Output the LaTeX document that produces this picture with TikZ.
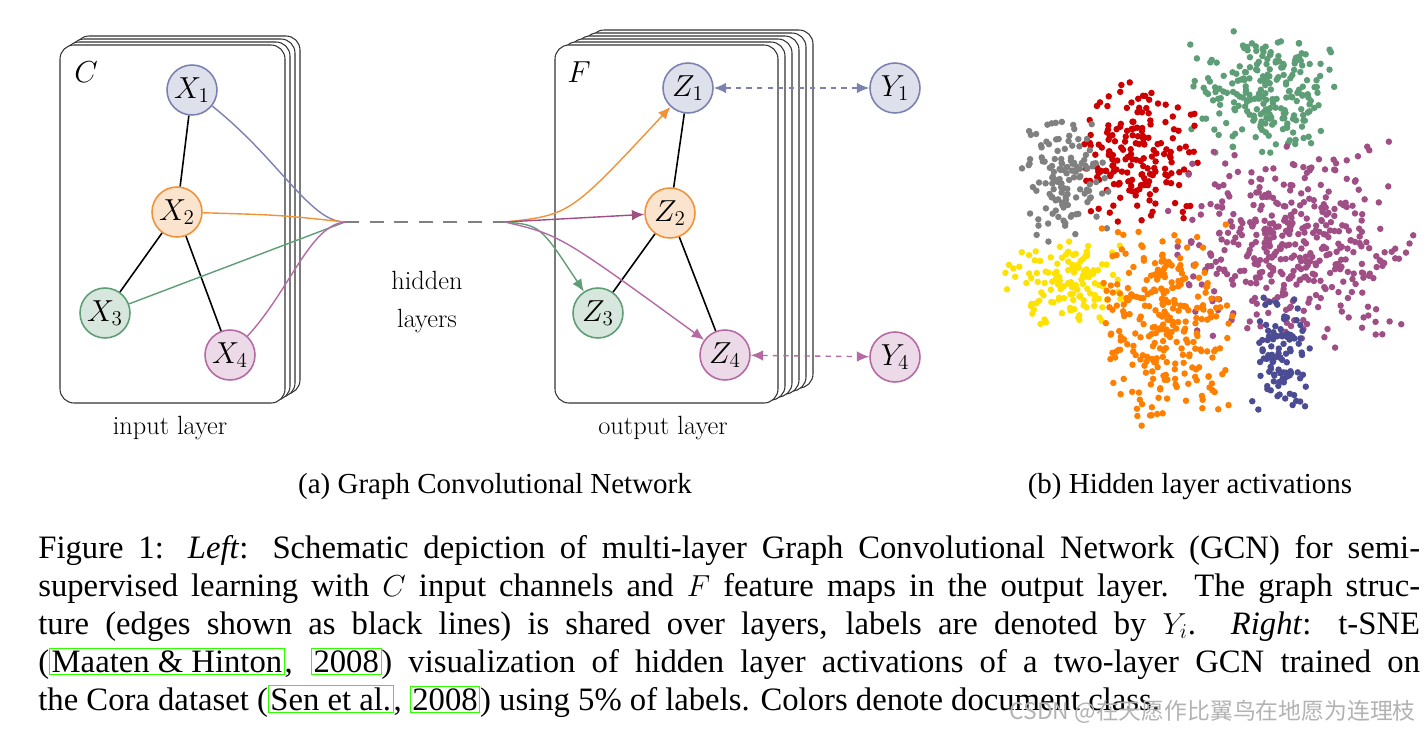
\documentclass[tikz,border=0pt]{standalone}
\usepackage{fontspec}
\newfontfamily\capfont{Liberation Serif}
\newfontfamily\cjk{Noto Sans CJK SC}
\usetikzlibrary{arrows.meta}
\definecolor{cblue}{HTML}{7C82B0}
\definecolor{corange}{HTML}{F0923A}
\definecolor{cgreen}{HTML}{5E9E76}
\definecolor{cpink}{HTML}{B56AA3}
\definecolor{cpurple}{HTML}{A04F86}
\newcommand\citebox[1]{{\fboxsep=1pt\fcolorbox{green!75!lime}{white}{#1}}}
\tikzset{
  unit/.style={circle, draw=#1, fill=#1!25, line width=0.9pt, minimum size=1cm, inner sep=0pt, font=\fontsize{18}{18}\selectfont},
  card/.style={draw=black!80, fill=white, rounded corners=8pt, line width=0.6pt},
  flow/.style={line width=0.8pt, -{Latex[length=7pt,width=6pt]}},
}
\begin{document}
\begin{tikzpicture}[x=0.02cm, y=-0.02cm]
\useasboundingbox (0,0) rectangle (1428,738);

% layer stacks
\foreach \k in {3,2,1}{
  \draw[card] (60+5*\k,45-3*\k) rectangle (285+5*\k,403-3*\k);
}
\draw[card] (60,45) rectangle (285,403);
\foreach \k in {5,4,3,2,1}{
  \draw[card] (555+7*\k,45-3*\k) rectangle (778+7*\k,403-3*\k);
}
\draw[card] (555,45) rectangle (778,403);
\node[font=\LARGE] (C) at (86,72) {$C$};
\node[font=\LARGE] (F) at (579,72) {$F$};

% input graph
\node[unit=cblue] (x1) at (192,90) {$X_1$};
\node[unit=corange] (x2) at (177,212) {$X_2$};
\node[unit=cgreen] (x3) at (105,313) {$X_3$};
\node[unit=cpink] (x4) at (230,355) {$X_4$};
\draw[line width=0.9pt] (x1) -- (x2) (x2) -- (x3) (x2) -- (x4);

\coordinate (hin) at (345,222);
\coordinate (hout) at (505,222);
\draw[cblue, line width=0.8pt] (x1) .. controls (280,160) and (310,222) .. (hin);
\draw[corange, line width=0.8pt] (x2) .. controls (280,215) .. (hin);
\draw[cgreen, line width=0.8pt] (x3) -- (hin);
\draw[cpink, line width=0.8pt] (x4) .. controls (290,290) and (310,225) .. (hin);
\draw[gray, dashed, dash pattern=on 8pt off 6pt, line width=0.8pt] (hin) -- (hout);
\node[font=\fontsize{15}{22}\selectfont, align=center] (hid) at (427,302) {hidden\\layers};

% output graph
\node[unit=cblue] (z1) at (688,88) {$Z_1$};
\node[unit=corange] (z2) at (670,213) {$Z_2$};
\node[unit=cgreen] (z3) at (598,313) {$Z_3$};
\node[unit=cpink] (z4) at (725,355) {$Z_4$};
\node[unit=cblue] (y1) at (895,88) {$Y_1$};
\node[unit=cpink] (y4) at (895,357) {$Y_4$};
\draw[line width=0.9pt] (z1) -- (z2) (z2) -- (z3) (z2) -- (z4);
\draw[flow, corange] (hout) .. controls (570,215) .. (z1);
\draw[flow, cpurple] (hout) -- (z2);
\draw[flow, cgreen] (hout) .. controls (540,225) .. (z3);
\draw[flow, cpink] (hout) .. controls (560,235) .. (z4);
\draw[cblue, dashed, line width=0.8pt, {Latex[length=7pt,width=6pt]}-{Latex[length=7pt,width=6pt]}] (z1) -- (y1);
\draw[cpink, dashed, line width=0.8pt, {Latex[length=7pt,width=6pt]}-{Latex[length=7pt,width=6pt]}] (z4) -- (y4);

\node[font=\fontsize{15}{16}\selectfont] (inl) at (170,428) {input layer};
\node[font=\fontsize{15}{16}\selectfont] (outl) at (663,428) {output layer};
\node[font=\capfont\fontsize{16.5}{18}\selectfont] (cpa) at (495,487) {(a) Graph Convolutional Network};
\node[font=\capfont\fontsize{16.5}{18}\selectfont] (cpb) at (1190,487) {(b) Hidden layer activations};

% t-SNE scatter
\pgfmathsetseed{7}
\foreach \cx/\cy/\sx/\sy/\n/\col in {
  1262/95/55/45/230/cgreen, 1140/155/42/55/180/red!80!black,
  1065/180/32/45/130/gray, 1290/245/85/72/420/cpurple,
  1065/282/42/32/130/yellow!85!orange, 1165/320/48/72/280/orange,
  1280/355/22/42/100/blue!40!black!70}{
  \foreach \k in {1,...,\n}{
    \fill[\col] ({\cx+\sx*0.75*(rand+rand)}, {\cy+\sy*0.75*(rand+rand)}) circle (0.065cm);
  }
}

% caption
\node[anchor=north west, inner sep=0pt, text width=27.64cm, align=justify,
  font=\capfont\fontsize{18.6}{21.6}\selectfont] (cap) at (38,535)
  {Figure 1: \textit{Left}: Schematic depiction of multi-layer Graph Convolutional Network (GCN) for semi-\linebreak
  supervised learning with $C$ input channels and $F$ feature maps in the output layer. The graph struc-\linebreak
  ture (edges shown as black lines) is shared over layers, labels are denoted by $Y_i$. \textit{Right}: t-SNE\linebreak
  (\citebox{Maaten \& Hinton}, \citebox{2008}) visualization of hidden layer activations of a two-layer GCN trained on\linebreak
  the Cora dataset (\citebox{Sen et al.}, \citebox{2008}) using 5\% of labels. Colors denote document class.};
\node[anchor=east, font=\cjk\fontsize{13}{14}\selectfont, text=gray!60] (wm) at (1422,712) {CSDN @在天愿作比翼鸟在地愿为连理枝};
\end{tikzpicture}
\end{document}
